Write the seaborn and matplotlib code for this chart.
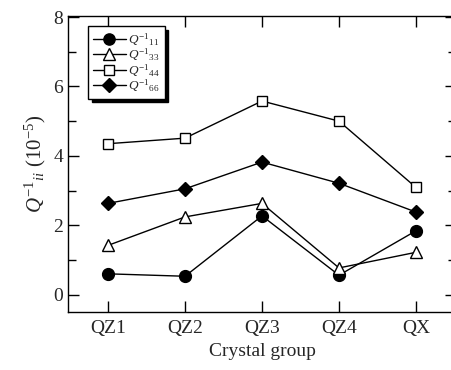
import matplotlib
matplotlib.use("Agg")
import matplotlib.pyplot as plt
import seaborn as sns
import pandas as pd

groups = ["QZ1", "QZ2", "QZ3", "QZ4", "QX"]
q11 = [0.60, 0.53, 2.27, 0.56, 1.84]
q33 = [1.42, 2.24, 2.63, 0.77, 1.22]
q44 = [4.35, 4.51, 5.58, 5.00, 3.09]
q66 = [2.63, 3.05, 3.82, 3.21, 2.38]

labels = [r"$Q^{-1}{}_{11}$", r"$Q^{-1}{}_{33}$", r"$Q^{-1}{}_{44}$", r"$Q^{-1}{}_{66}$"]
series = [q11, q33, q44, q66]
styles = [
    dict(marker="o", markerfacecolor="black", markersize=8.5),
    dict(marker="^", markerfacecolor="white", markersize=9),
    dict(marker="s", markerfacecolor="white", markersize=7),
    dict(marker="D", markerfacecolor="black", markersize=7),
]

sns.set_style("ticks")
plt.rcParams["font.family"] = ["Liberation Serif", "DejaVu Serif"]
plt.rcParams["mathtext.fontset"] = "custom"
plt.rcParams["mathtext.rm"] = "Liberation Serif"
plt.rcParams["mathtext.it"] = "Liberation Serif:italic"

fig = plt.figure(figsize=(4.52, 3.70), dpi=100)
ax = fig.add_axes([68 / 452, 58 / 370, 388 / 452, 296 / 370])

for vals, lab, st in zip(series, labels, styles):
    df = pd.DataFrame({"group": groups, "value": vals})
    sns.lineplot(data=df, x="group", y="value", sort=False, ax=ax, color="black",
                 linewidth=1.0, markeredgecolor="black", markeredgewidth=1.0,
                 label=lab, **st)

ax.set_xlim(-0.52, 4.52)
ax.set_ylim(-0.5, 8.03)
ax.set_yticks([0, 2, 4, 6, 8])
ax.set_yticks([1, 3, 5, 7], minor=True)
ax.tick_params(axis="both", which="both", direction="in", top=True, right=True,
               labelsize=14, width=1.0, color="black")
ax.tick_params(axis="both", which="major", length=8)
ax.tick_params(axis="y", which="minor", length=6)
ax.tick_params(axis="x", which="major", pad=6)
for sp in ax.spines.values():
    sp.set_linewidth(1.0)
    sp.set_color("black")

ax.set_xlabel("Crystal group", fontsize=14, labelpad=4)
ax.set_ylabel(r"$Q^{-1}{}_{ii}$ (10$^{-5}$)", fontsize=15, labelpad=4)

leg = ax.legend(loc="upper left", bbox_to_anchor=(0.052, 0.965), fontsize=9.5,
                frameon=True, fancybox=False, edgecolor="black", framealpha=1,
                shadow={"color": "black", "alpha": 1, "ox": 2.5, "oy": -2.5},
                handlelength=2.5, handletextpad=0.2, labelspacing=-0.08,
                borderpad=0.35, borderaxespad=0.0, markerscale=0.95)
leg.get_frame().set_linewidth(1.0)

fig.savefig("out.png", dpi=100)
